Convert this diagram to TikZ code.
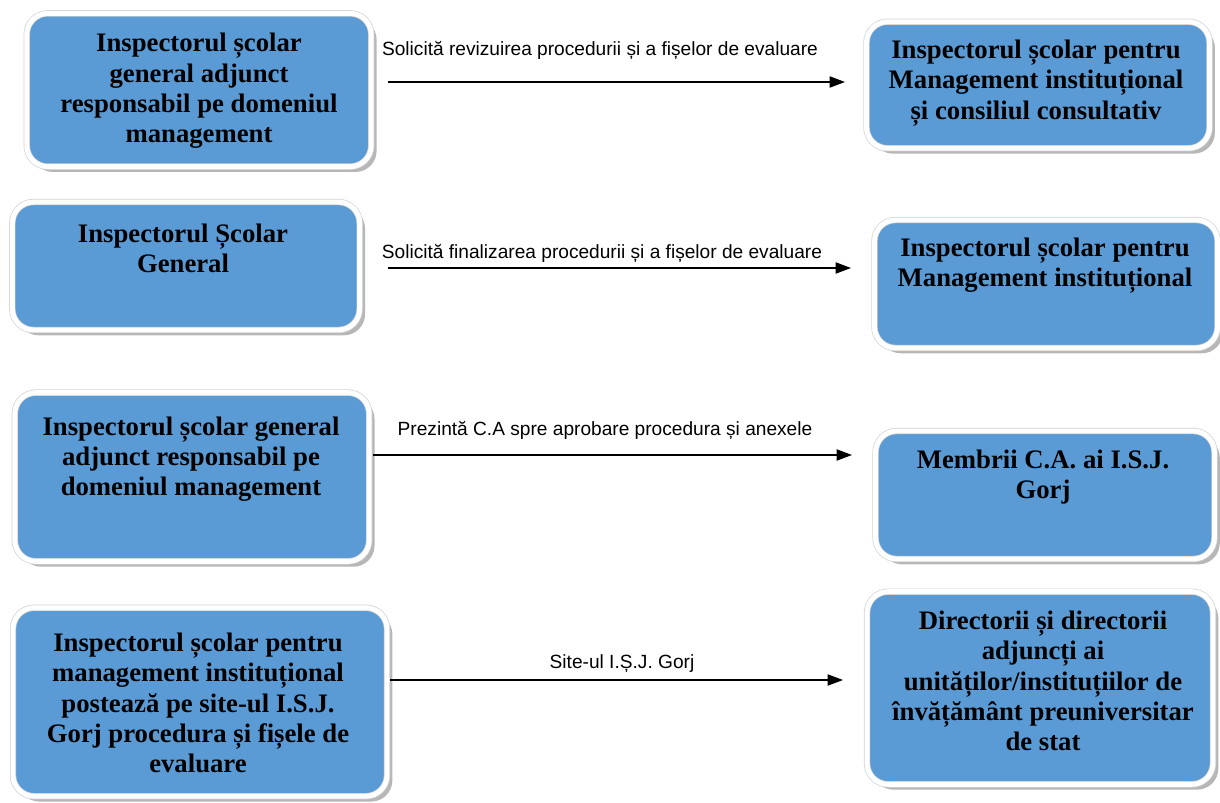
\documentclass[tikz,border=0pt]{standalone}
\usepackage{fontspec}
\setmainfont{Liberation Serif}
\newfontfamily\arialfont{Liberation Sans}
\usepackage{tikz}
\usetikzlibrary{arrows.meta, positioning, shadows}
\definecolor{boxblue}{HTML}{5B9BD5}

\begin{document}
\begin{tikzpicture}[x=0.025cm, y=-0.025cm,
    box/.style={rectangle, rounded corners=15pt, fill=boxblue, draw=gray!35, line width=0.5pt,
      double=white, double distance=3.5pt,
      drop shadow={shadow xshift=3.8pt, shadow yshift=-3.8pt, fill=gray!80, opacity=0.7}},
    boxtxt/.style={align=center, font=\fontsize{19}{21.5}\selectfont\bfseries},
    lbl/.style={font=\fontsize{13.6}{16}\selectfont\arialfont, inner sep=0pt},
    flow/.style={-{Triangle[length=11pt, width=8pt]}, line width=1pt}]
    \useasboundingbox (0,0) rectangle (1220,802);
    % left column
    \node[box, minimum width=245pt, minimum height=109pt] (b1) at (199,90) {};
    \node[box, minimum width=247pt, minimum height=91pt] (b3) at (186,266) {};
    \node[box, minimum width=252pt, minimum height=120pt] (b5) at (192,477) {};
    \node[box, minimum width=266pt, minimum height=134pt] (b7) at (200,702) {};
    % right column
    \node[box, minimum width=244pt, minimum height=90pt] (b2) at (1038,85) {};
    \node[box, minimum width=244pt, minimum height=91pt] (b4) at (1046,284) {};
    \node[box, minimum width=241pt, minimum height=91pt] (b6) at (1045,495) {};
    \node[box, minimum width=246pt, minimum height=137pt] (b8) at (1040,688) {};
    % texts
    \node[boxtxt] (t1) at (199,91) {Inspectorul școlar\\general adjunct\\responsabil pe domeniul\\management};
    \node[boxtxt] (t3) at (183,248) {Inspectorul Școlar\\General};
    \node[boxtxt] (t5) at (191,459) {Inspectorul școlar general\\adjunct responsabil pe\\domeniul management};
    \node[boxtxt] (t7) at (198,703) {Inspectorul școlar pentru\\management instituțional\\postează pe site-ul I.S.J.\\Gorj procedura și fișele de\\evaluare};
    \node[boxtxt] (t2) at (1036,83) {Inspectorul școlar pentru\\Management instituțional\\și consiliul consultativ};
    \node[boxtxt] (t4) at (1045,266) {Inspectorul școlar pentru\\Management instituțional};
    \node[boxtxt] (t6) at (1043,477) {Membrii C.A. ai I.S.J.\\Gorj};
    \node[boxtxt] (t8) at (1043,681) {Directorii și directorii\\adjuncți ai\\unităților/instituțiilor de\\învățământ preuniversitar\\de stat};
    % arrow ends
    \coordinate (s1) at (388,82);  \coordinate (e1) at (845,82);
    \coordinate (s2) at (388,268); \coordinate (e2) at (851,268);
    \coordinate (s3) at (373,455); \coordinate (e3) at (852,455);
    \coordinate (s4) at (390,680); \coordinate (e4) at (843,680);
    \draw[flow] (s1) -- (e1);
    \draw[flow] (s2) -- (e2);
    \draw[flow] (s3) -- (e3);
    \draw[flow] (s4) -- (e4);
    % arrow labels
    \node[lbl] (l1) at (600,50) {Solicită revizuirea procedurii și a fișelor de evaluare};
    \node[lbl] (l2) at (602,253) {Solicită finalizarea procedurii și a fișelor de evaluare};
    \node[lbl] (l3) at (605,430) {Prezintă C.A spre aprobare procedura și anexele};
    \node[lbl] (l4) at (622,664) {Site-ul I.Ș.J. Gorj};
\end{tikzpicture}
\end{document}
